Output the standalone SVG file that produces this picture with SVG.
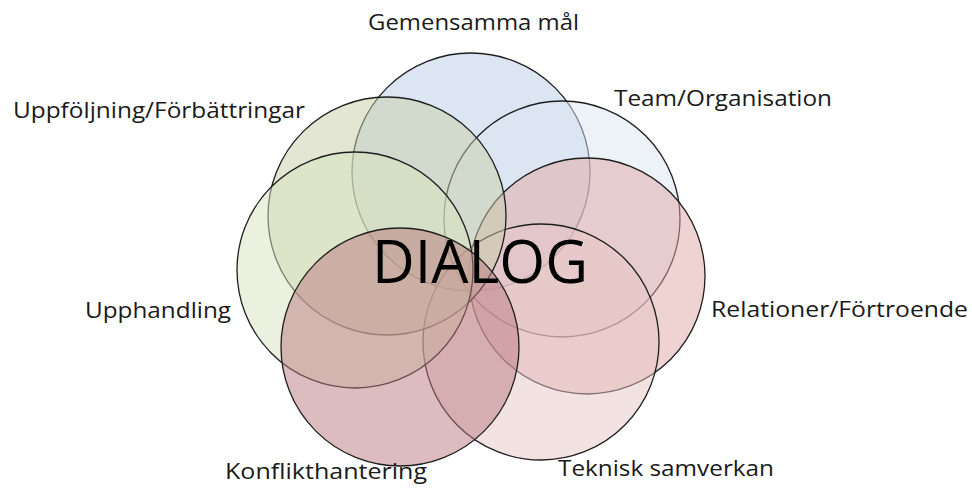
<svg xmlns="http://www.w3.org/2000/svg" width="972" height="489" viewBox="0 0 972 489">
<style>
.c{stroke:#1e1e1e;stroke-width:1.3;fill-opacity:0.5}
.l{font-family:"Open Sans","Noto Sans",sans-serif;font-size:22px;fill:#1a1a1a}
.d{font-family:"Open Sans","Noto Sans",sans-serif;font-size:60px;fill:#000}
</style>
<rect width="972" height="489" fill="#fff"/>
<g id="gemensamma"><circle class="c" cx="471" cy="172" r="119" fill="#b9cde5"/></g>
<g id="team"><circle class="c" cx="562" cy="219" r="118" fill="#dce6f2"/></g>
<g id="relationer"><circle class="c" cx="587" cy="276" r="118" fill="#dfa6a6"/></g>
<g id="teknisk"><circle class="c" cx="541" cy="342" r="118" fill="#e8c6c6"/></g>
<g id="uppfoljning"><circle class="c" cx="387" cy="216" r="119" fill="#c7cda7"/></g>
<g id="upphandling"><circle class="c" cx="355" cy="270" r="118" fill="#d7e4bd"/></g>
<g id="konflikt"><circle class="c" cx="400" cy="347" r="119" fill="#b97a80"/></g>
<g id="labels">
<text class="l" x="368" y="30" textLength="211" lengthAdjust="spacingAndGlyphs">Gemensamma mål</text>
<text class="l" x="13" y="118" textLength="292" lengthAdjust="spacingAndGlyphs">Uppföljning/Förbättringar</text>
<text class="l" x="614" y="106" textLength="218" lengthAdjust="spacingAndGlyphs">Team/Organisation</text>
<text class="l" x="711" y="317" textLength="257" lengthAdjust="spacingAndGlyphs">Relationer/Förtroende</text>
<text class="l" x="85" y="318" textLength="146" lengthAdjust="spacingAndGlyphs">Upphandling</text>
<text class="l" x="225" y="479" textLength="202" lengthAdjust="spacingAndGlyphs">Konflikthantering</text>
<text class="l" x="558" y="476" textLength="216" lengthAdjust="spacingAndGlyphs">Teknisk samverkan</text>
<text class="d" x="372" y="283" textLength="216" lengthAdjust="spacingAndGlyphs">DIALOG</text>
</g>
<g id="connectors"></g>
</svg>
